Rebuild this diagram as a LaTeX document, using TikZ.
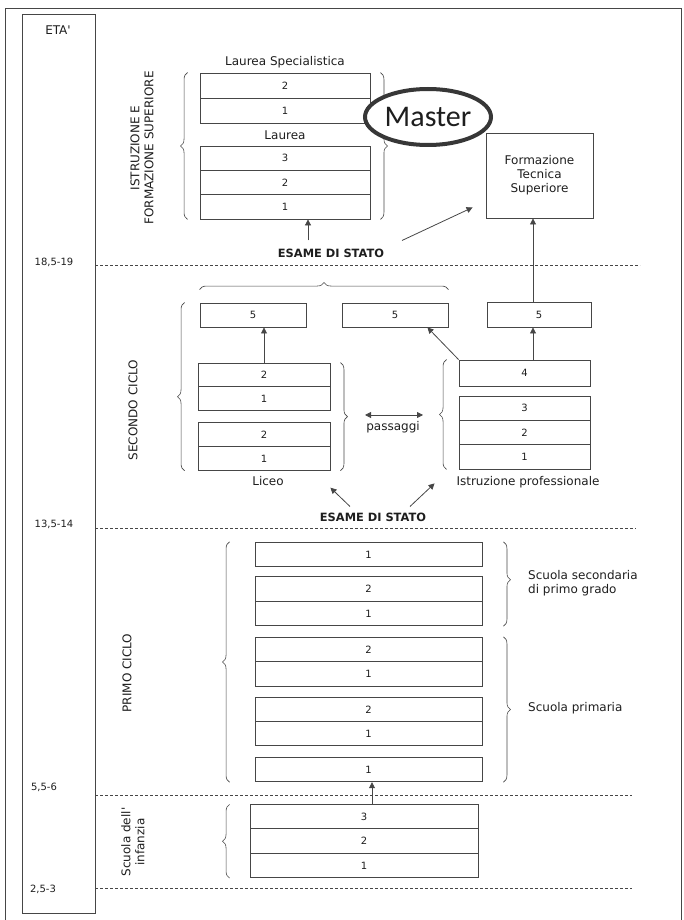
\documentclass[tikz,border=0pt]{standalone}
\usepackage{fontspec}
\setmainfont{DejaVu Sans}
\newfontfamily\masterfont{Carlito}
\usetikzlibrary{arrows.meta,decorations.pathreplacing,shapes.geometric}

\definecolor{lineColor}{RGB}{70,70,70}
\definecolor{textColor}{RGB}{30,30,30}
\definecolor{ovalColor}{RGB}{55,55,55}

\tikzset{
  cell/.style={draw=lineColor, line width=0.9pt, fill=white, inner sep=0pt,
    font=\fontsize{10}{12}\selectfont, text=textColor},
  lbl/.style={font=\fontsize{12}{14}\selectfont, text=textColor, inner sep=1pt},
  agelbl/.style={font=\fontsize{10}{12}\selectfont, text=textColor, inner sep=1pt},
  exam/.style={font=\fontsize{11.4}{13}\selectfont\bfseries, text=textColor, inner sep=1pt},
  arr/.style={draw=lineColor, line width=0.8pt, -{Triangle[length=6pt,width=6pt]}},
  dblarr/.style={draw=lineColor, line width=0.8pt,
    {Triangle[length=6pt,width=6pt]}-{Triangle[length=6pt,width=6pt]}},
  brc/.style={draw=lineColor, line width=0.6pt, decorate,
    decoration={brace, amplitude=7pt}},
  sep/.style={draw=lineColor, line width=0.9pt, dash pattern=on 3pt off 2pt},
}

\begin{document}
\begin{tikzpicture}[x=1pt, y=-1pt]
  \useasboundingbox (0,0) rectangle (684,920);
  % page frame and age column
  \draw[lineColor, line width=0.8pt] (5,920) -- (5,8) -- (681,8) -- (681,920);
  \draw[lineColor, line width=0.9pt] (22,14) rectangle (95,913);
  \node[lbl] (eta) at (58,30) {ETA\textquotesingle};
  \node[agelbl] (a19) at (54,262) {18,5-19};
  \node[agelbl] (a14) at (54,524) {13,5-14};
  \node[agelbl] (a6) at (44,787) {5,5-6};
  \node[agelbl] (a3) at (43,889) {2,5-3};
  \draw[sep] (95,265) -- (640,265);
  \draw[sep] (95,528) -- (636,528);
  \draw[sep] (95,795) -- (632,795);
  \draw[sep] (95,888) -- (632,888);

  % Istruzione e formazione superiore
  \node[lbl, rotate=90, align=center] (isLbl) at (142,148) {ISTRUZIONE E\\FORMAZIONE SUPERIORE};
  \node[lbl] (lsTitle) at (285,62) {Laurea Specialistica};
  \node[cell, minimum width=170pt, minimum height=25pt] (ls2) at (285,85.5) {2};
  \node[cell, minimum width=170pt, minimum height=25pt] (ls1) at (285,110.5) {1};
  \node[lbl] (lTitle) at (285,135) {Laurea};
  \foreach \n/\y in {3/158.2, 2/182.5, 1/206.8}
    \node[cell, minimum width=170pt, minimum height=24.3pt] (l\n) at (285,\y) {\n};
  \draw[brc] ([xshift=-12pt]l1.south west) -- ([xshift=-12pt]ls2.north west);
  \draw[brc] ([xshift=10pt]ls2.north east) -- ([xshift=10pt]l1.south east);
  \node[draw=ovalColor, line width=4pt, ellipse, fill=white, inner sep=0pt,
    minimum width=126pt, minimum height=56pt, text=textColor,
    font=\masterfont\fontsize{30}{32}\selectfont] (master) at (428,117) {Master};
  \node[cell, minimum width=107pt, minimum height=85pt, align=center,
    font=\fontsize{12}{14}\selectfont] (fts) at (539.5,175.5) {Formazione\\Tecnica\\Superiore};
  \node[exam] (esame1) at (331,253) {ESAME DI STATO};
  \draw[arr] ([xshift=-23pt,yshift=7pt]esame1.north) -- ([xshift=23pt]l1.south);
  \draw[arr] ([xshift=71pt,yshift=7pt]esame1.north) -- ([shift={(-13pt,11pt)}]fts.south west);

  % Secondo ciclo
  \node[lbl, rotate=90] (scLbl) at (133,410) {SECONDO CICLO};
  \node[cell, minimum width=106pt, minimum height=24pt] (lic5) at (253,315) {5};
  \node[cell, minimum width=106pt, minimum height=24pt] (mid5) at (395,315) {5};
  \node[cell, minimum width=104pt, minimum height=25pt] (ip5) at (539,314.5) {5};
  \node[cell, minimum width=132pt, minimum height=24pt] (lA2) at (264,375) {2};
  \node[cell, minimum width=132pt, minimum height=23.5pt] (lA1) at (264,398.5) {1};
  \node[cell, minimum width=132pt, minimum height=24pt] (lB2) at (264,434.5) {2};
  \node[cell, minimum width=132pt, minimum height=23.5pt] (lB1) at (264,458.5) {1};
  \node[lbl] (liceo) at (268,481) {Liceo};
  \node[cell, minimum width=131pt, minimum height=26pt] (ip4) at (524.5,373) {4};
  \foreach \n/\y in {3/408.2, 2/432.5, 1/456.8}
    \node[cell, minimum width=131pt, minimum height=24.3pt] (ip\n) at (524.5,\y) {\n};
  \node[lbl] (ipLbl) at (528,482) {Istruzione professionale};
  \node[lbl] (pass) at (393,427) {passaggi};
  \draw[dblarr] ([xshift=-28pt,yshift=5pt]pass.north) -- ([xshift=30pt,yshift=5pt]pass.north);
  \draw[brc] ([yshift=13pt]lic5.north west) -- ([yshift=13pt]mid5.north east);
  \draw[brc, decoration={aspect=0.44}] ([xshift=-13pt]lB1.south west) -- ([xshift=-13pt]lB1.south west |- lic5.north);
  \draw[brc] ([xshift=10pt]lA2.north east) -- ([xshift=10pt]lB1.south east);
  \draw[brc] ([xshift=-12pt]ip1.south west) -- ([xshift=-12pt]ip4.north west);
  \draw[arr] (lA2.north) -- (lA2.north |- lic5.south);
  \draw[arr] ([xshift=8.5pt]ip4.north) -- ([xshift=8.5pt]ip4.north |- ip5.south);
  \draw[arr] (ip4.north west) -- ([xshift=-21pt]mid5.south east);
  \draw[arr] ([xshift=-6pt]ip5.north) -- ([xshift=-6pt]ip5.north |- fts.south);
  \node[exam] (esame2) at (373,517) {ESAME DI STATO};
  \draw[arr] ([xshift=-23pt,yshift=5pt]esame2.north) -- ([yshift=-17pt]lB1.south east);
  \draw[arr] ([xshift=37pt,yshift=5pt]esame2.north) -- ([shift={(-24pt,-14pt)}]ip1.south west);

  % Primo ciclo
  \node[lbl, rotate=90] (pcLbl) at (127,673) {PRIMO CICLO};
  \foreach \nm/\n/\y in {pa1/1/554.5, pb2/2/589, pb1/1/613.5, pc2/2/649.5, pc1/1/674,
                         pd2/2/709.5, pd1/1/733.5, pe1/1/769.5}
    \node[cell, minimum width=227pt, minimum height=24.5pt] (\nm) at (368.5,\y) {\n};
  \draw[brc] ([xshift=-25pt]pe1.south west) -- ([xshift=-25pt]pa1.north west);
  \draw[brc, decoration={aspect=0.45}] ([xshift=21pt]pa1.north east) -- ([xshift=21pt]pb1.south east);
  \draw[brc] ([xshift=21pt]pc2.north east) -- ([xshift=21pt]pe1.south east);
  \node[lbl, anchor=west, align=left] (secLbl) at (527,583.5) {Scuola secondaria\\di primo grado};
  \node[lbl, anchor=west] (primLbl) at (527,708) {Scuola primaria};

  % Scuola dell'infanzia
  \node[lbl, rotate=90, align=center] (infLbl) at (133,842) {Scuola dell\textquotesingle\\infanzia};
  \foreach \n/\y in {3/817, 2/841, 1/865.5}
    \node[cell, minimum width=228pt, minimum height=24.3pt] (in\n) at (364,\y) {\n};
  \draw[brc] ([xshift=-20pt]in1.south west) -- ([xshift=-20pt]in3.north west);
  \draw[arr] ([xshift=8pt]in3.north) -- ([xshift=8pt]in3.north |- pe1.south);
\end{tikzpicture}
\end{document}
